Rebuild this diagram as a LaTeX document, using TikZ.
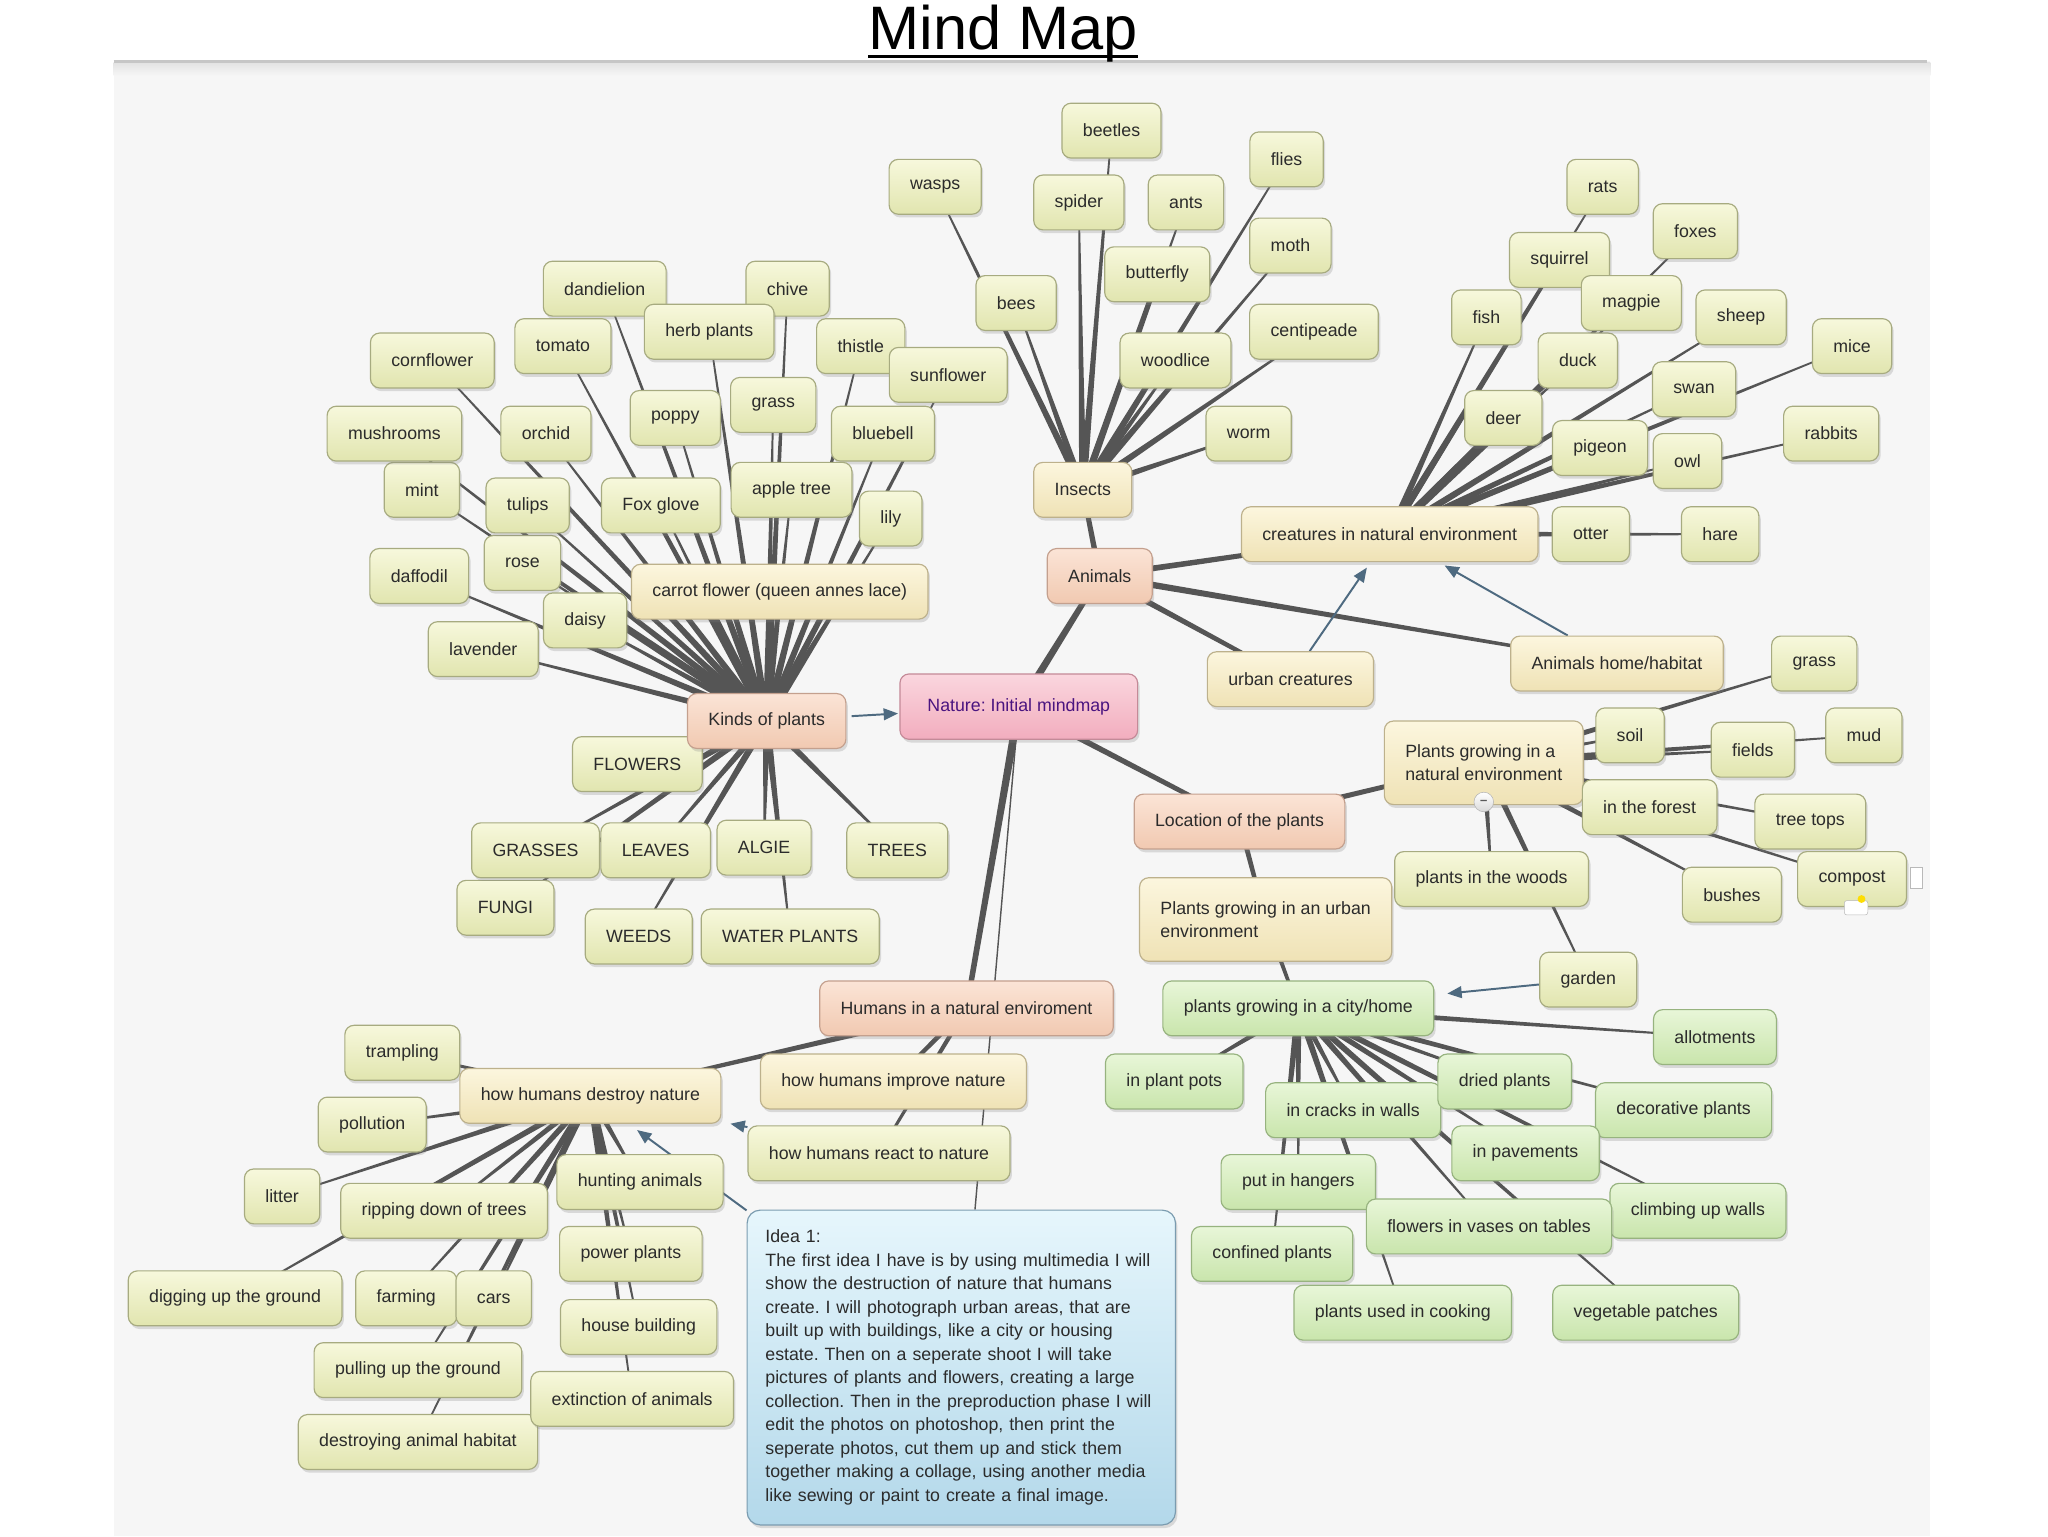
\documentclass[tikz,border=0pt]{standalone}
\usepackage{fontspec}
\setmainfont{Liberation Sans}
\usetikzlibrary{calc,shadows,arrows.meta}
\pgfdeclarelayer{canvas}
\pgfdeclarelayer{bg}
\pgfsetlayers{canvas,bg,main}
\frenchspacing
\definecolor{txt}{HTML}{2B2B2B}
\definecolor{lnk}{HTML}{555555}
\definecolor{arrc}{HTML}{4E6A80}
\definecolor{cv}{HTML}{F6F6F6}
\definecolor{leaft}{HTML}{F7F8DC}
\definecolor{leafm}{HTML}{E1E5AF}
\definecolor{leafd}{HTML}{A7AB80}
\definecolor{beit}{HTML}{FCF6DE}
\definecolor{beim}{HTML}{EFE2B5}
\definecolor{beid}{HTML}{BDB18C}
\definecolor{salt}{HTML}{FBE4D6}
\definecolor{salm}{HTML}{F1C9B1}
\definecolor{sald}{HTML}{C4A08E}
\definecolor{pinkt}{HTML}{FAD6DE}
\definecolor{pinkm}{HTML}{F2ADBE}
\definecolor{pinkd}{HTML}{C48A98}
\definecolor{grnt}{HTML}{E8F6D8}
\definecolor{grnm}{HTML}{C9E5AC}
\definecolor{grnd}{HTML}{97B37F}
\definecolor{blut}{HTML}{E6F6FC}
\definecolor{blum}{HTML}{B3D8EA}
\definecolor{blud}{HTML}{7B9CB0}
\definecolor{natxt}{HTML}{4A1480}
\newcommand{\mmlw}[4]{\fill[lnk] ($(#1)!#3!90:(#2)$) -- ($(#1)!#3!-90:(#2)$) -- ($(#2)!#4!90:(#1)$) -- ($(#2)!#4!-90:(#1)$) -- cycle;}
\newcommand{\mmfan}[4]{\foreach \mmc in {#2}{\mmlw{#1}{\mmc}{#3}{#4}}}
\tikzset{
 mmbox/.style n args={3}{draw=#3, top color=#1, bottom color=#2, rounded corners=7pt, line width=0.9pt, minimum height=42pt, inner xsep=16pt, inner ysep=3pt, text=txt, font=\fontsize{13.6}{18}\selectfont, drop shadow={opacity=0.25, shadow xshift=1.5pt, shadow yshift=-2.5pt}},
 mmleaf/.style={mmbox={leaft}{leafm}{leafd}},
 mmbeige/.style={mmbox={beit}{beim}{beid}},
 mmsal/.style={mmbox={salt}{salm}{sald}},
 mmpink/.style={mmbox={pinkt}{pinkm}{pinkd}},
 mmgreen/.style={mmbox={grnt}{grnm}{grnd}},
 mmblue/.style={mmbox={blut}{blum}{blud}},
 mmarr/.style={draw=arrc, line width=1.5pt, -{Triangle[length=11pt,width=9pt]}},
}
\begin{document}
\begin{tikzpicture}[x=1pt,y=-1pt]
\useasboundingbox (0,0) rectangle (1568,1176);
% title
\node[font=\fontsize{47}{50}\selectfont, anchor=base, inner sep=0pt, text=black] (title) at (768,38) {Mind Map};
\draw[line width=2.4pt] ([yshift=-5pt]title.base west) -- ([yshift=-5pt]title.base east);
% insects
\node[mmleaf] (beetles) at (851,100) {beetles};
\node[mmleaf] (flies) at (985,122) {flies};
\node[mmleaf] (wasps) at (716,143) {wasps};
\node[mmleaf] (spider) at (826,155) {spider};
\node[mmleaf] (ants) at (908,155) {ants};
\node[mmleaf] (moth) at (988,188) {moth};
\node[mmleaf] (butterfly) at (886,210) {butterfly};
\node[mmleaf] (bees) at (778,232) {bees};
\node[mmleaf] (centipeade) at (1006,254) {centipeade};
\node[mmleaf] (woodlice) at (900,276) {woodlice};
\node[mmleaf] (worm) at (956,332) {worm};
\node[mmbeige] (insects) at (829,375) {Insects};
\node[mmsal] (animals) at (842,441) {Animals};
% creatures
\node[mmleaf] (rats) at (1227,143) {rats};
\node[mmleaf] (foxes) at (1298,177) {foxes};
\node[mmleaf] (squirrel) at (1194,199) {squirrel};
\node[mmleaf] (fish) at (1138,243) {fish};
\node[mmleaf] (duck) at (1208,276) {duck};
\node[mmleaf] (magpie) at (1249,232) {magpie};
\node[mmleaf] (sheep) at (1333,243) {sheep};
\node[mmleaf] (mice) at (1418,265) {mice};
\node[mmleaf] (swan) at (1297,298) {swan};
\node[mmleaf] (deer) at (1151,320) {deer};
\node[mmleaf] (pigeon) at (1225,343) {pigeon};
\node[mmleaf] (owl) at (1292,353) {owl};
\node[mmleaf] (rabbits) at (1402,332) {rabbits};
\node[mmbeige] (creatures) at (1064,409) {creatures in natural environment};
\node[mmleaf] (otter) at (1218,409) {otter};
\node[mmleaf] (hare) at (1317,409) {hare};
\node[mmbeige] (urban) at (988,520) {urban creatures};
\node[mmbeige] (home) at (1238,508) {Animals home/habitat};
\node[mmleaf] (grassr) at (1389,508) {grass};
% plants
\node[mmleaf] (dandielion) at (463,221) {dandielion};
\node[mmleaf] (chive) at (603,221) {chive};
\node[mmleaf] (tomato) at (431,265) {tomato};
\node[mmleaf] (herb) at (543,254) {herb plants};
\node[mmleaf] (thistle) at (659,265) {thistle};
\node[mmleaf] (sunflower) at (726,287) {sunflower};
\node[mmleaf] (cornflower) at (331,276) {cornflower};
\node[mmleaf] (mint) at (323,375) {mint};
\node[mmleaf] (mushrooms) at (302,332) {mushrooms};
\node[mmleaf] (orchid) at (418,332) {orchid};
\node[mmleaf] (poppy) at (517,320) {poppy};
\node[mmleaf] (grass) at (592,310) {grass};
\node[mmleaf] (bluebell) at (676,332) {bluebell};
\node[mmleaf] (rose) at (400,431) {rose};
\node[mmleaf] (tulips) at (404,387) {tulips};
\node[mmleaf] (foxglove) at (506,387) {Fox glove};
\node[mmleaf] (appletree) at (606,375) {apple tree};
\node[mmleaf] (lily) at (682,397) {lily};
\node[mmleaf] (daffodil) at (321,441) {daffodil};
\node[mmleaf] (daisy) at (448,475) {daisy};
\node[mmleaf] (lavender) at (370,497) {lavender};
\node[mmbeige] (carrot) at (597,453) {carrot flower (queen annes lace)};
\node[mmleaf] (flowers) at (488,585) {FLOWERS};
\node[mmsal] (kinds) at (587,552) {Kinds of plants};
\node[mmleaf] (fungi) at (387,695) {FUNGI};
\node[mmleaf] (grasses) at (410,651) {GRASSES};
\node[mmleaf] (leaves) at (502,651) {LEAVES};
\node[mmleaf] (algie) at (585,649) {ALGIE};
\node[mmleaf] (trees) at (687,651) {TREES};
\node[mmleaf] (weeds) at (489,717) {WEEDS};
\node[mmleaf] (waterplants) at (605,717) {WATER PLANTS};
% centre
\node[mmpink, minimum width=182pt, minimum height=50pt, text=natxt] (nature) at (780,541) {Nature: Initial mindmap};
% location
\node[mmsal] (location) at (949,629) {Location of the plants};
\node[mmbeige, align=left, minimum height=64pt] (pnat) at (1136,584) {Plants growing in a\\natural environment};
\node[circle, draw=gray!60, top color=white, bottom color=gray!30, minimum size=15pt, inner sep=0pt, font=\bfseries\fontsize{10}{10}\selectfont, text=gray!70!black] (minus) at (1136,614) {--};
\node[mmleaf] (soil) at (1248,563) {soil};
\node[mmleaf] (fields) at (1342,574) {fields};
\node[mmleaf] (mud) at (1427,563) {mud};
\node[mmleaf] (forest) at (1263,618) {in the forest};
\node[mmleaf] (treetops) at (1386,629) {tree tops};
\node[mmleaf] (woods) at (1142,673) {plants in the woods};
\node[mmleaf] (bushes) at (1326,685) {bushes};
\node[mmleaf] (compost) at (1418,673) {compost};
\node[draw=gray!55, fill=white, minimum width=9pt, minimum height=16pt, inner sep=0pt] (iconA) at (1467,672) {};
\node[draw=gray!55, fill=white, rounded corners=2pt, minimum width=18pt, minimum height=11pt, inner sep=0pt] (iconB) at (1421,695) {};
\fill[yellow!80!orange] (iconB.north east) ++(-5pt,1pt) circle (3pt);
\node[mmbeige, align=left, minimum height=64pt] (purban) at (969,704) {Plants growing in an urban\\environment};
\node[mmleaf] (garden) at (1216,750) {garden};
\node[mmgreen] (city) at (994,772) {plants growing in a city/home};
\node[mmgreen] (allot) at (1313,794) {allotments};
\node[mmgreen] (pots) at (899,828) {in plant pots};
\node[mmgreen] (cracks) at (1036,850) {in cracks in walls};
\node[mmgreen] (dried) at (1152,828) {dried plants};
\node[mmgreen] (decor) at (1289,850) {decorative plants};
\node[mmgreen] (pave) at (1168,883) {in pavements};
\node[mmgreen] (hangers) at (994,905) {put in hangers};
\node[mmgreen] (climb) at (1300,927) {climbing up walls};
\node[mmgreen] (confined) at (974,960) {confined plants};
\node[mmgreen] (vases) at (1140,939) {flowers in vases on tables};
\node[mmgreen] (cooking) at (1074,1005) {plants used in cooking};
\node[mmgreen] (veg) at (1260,1005) {vegetable patches};
% humans
\node[mmsal] (humans) at (740,772) {Humans in a natural enviroment};
\node[mmbeige] (improve) at (684,828) {how humans improve nature};
\node[mmleaf] (react) at (673,883) {how humans react to nature};
\node[mmleaf] (trampling) at (308,806) {trampling};
\node[mmbeige] (destroy) at (452,839) {how humans destroy nature};
\node[mmleaf] (pollution) at (285,861) {pollution};
\node[mmleaf] (litter) at (216,916) {litter};
\node[mmleaf] (ripping) at (340,927) {ripping down of trees};
\node[mmleaf] (hunting) at (490,905) {hunting animals};
\node[mmleaf] (power) at (483,960) {power plants};
\node[mmleaf] (digging) at (180,994) {digging up the ground};
\node[mmleaf] (farming) at (311,994) {farming};
\node[mmleaf] (cars) at (378,994) {cars};
\node[mmleaf] (house) at (489,1016) {house building};
\node[mmleaf] (pulling) at (320,1049) {pulling up the ground};
\node[mmleaf] (habitat) at (320,1104) {destroying animal habitat};
\node[mmleaf] (extinct) at (484,1071) {extinction of animals};
\node[mmblue, minimum width=328pt, minimum height=241pt, text width=300pt, inner xsep=0pt, align=left, rounded corners=10pt] (idea) at (736,1047) {Idea 1:\\The first idea I have is by using multimedia I will\\show the destruction of nature that humans\\create. I will photograph urban areas, that are\\built up with buildings, like a city or housing\\estate. Then on a seperate shoot I will take\\pictures of plants and flowers, creating a large\\collection. Then in the preproduction phase I will\\edit the photos on photoshop, then print the\\seperate photos, cut them up and stick them\\together making a collage, using another media\\like sewing or paint to create a final image.};
% background canvas
\begin{pgfonlayer}{canvas}
\fill[white] (0,0) rectangle (1568,1176);
\fill[cv] (87,47) rectangle (1478,1176);
\shade[top color=gray!22, bottom color=cv] (87,48) rectangle (1478,58);
\draw[gray!45, line width=2pt] (87,47) -- (1475,47);
\end{pgfonlayer}
% connectors
\begin{pgfonlayer}{bg}
\mmfan{insects}{wasps,beetles,spider,ants,flies,moth,butterfly,bees,centipeade,woodlice,worm}{2.8pt}{0.5pt}
\mmfan{creatures}{rats,foxes,squirrel,fish,magpie,sheep,mice,duck,swan,deer,pigeon,owl,rabbits,otter,hare}{2.8pt}{0.5pt}
\mmfan{kinds}{dandielion,chive,herb,tomato,thistle,cornflower,sunflower,grass,poppy,bluebell,mushrooms,orchid,mint,tulips,foxglove,appletree,lily,daffodil,rose,carrot,daisy,lavender,flowers,grasses,leaves,algie,trees,fungi,weeds,waterplants}{2.8pt}{0.5pt}
\mmfan{pnat}{soil,fields,mud,grassr,forest,treetops,compost,bushes,woods,garden}{2.5pt}{0.5pt}
\mmfan{city}{allot,pots,dried,cracks,decor,pave,hangers,climb,vases,confined,cooking,veg}{2.5pt}{0.5pt}
\mmfan{destroy}{trampling,pollution,litter,ripping,hunting,power,digging,farming,cars,house,pulling,extinct,habitat}{2.5pt}{0.5pt}
\mmlw{nature}{animals}{3pt}{2pt}
\mmlw{nature}{location}{2.4pt}{1.6pt}
\mmlw{nature}{humans}{3pt}{2pt}
\mmlw{animals}{insects}{2.2pt}{1.8pt}
\mmlw{animals}{creatures}{2.4pt}{1.4pt}
\mmlw{animals}{urban}{2.4pt}{1.4pt}
\mmlw{animals}{home}{2.6pt}{1pt}
\mmlw{location}{pnat}{2.2pt}{1.6pt}
\mmlw{location}{purban}{2pt}{1.5pt}
\mmlw{purban}{city}{1.8pt}{1.2pt}
\mmlw{humans}{destroy}{2.4pt}{1.2pt}
\mmlw{humans}{improve}{2pt}{1.4pt}
\mmlw{humans}{react}{1.8pt}{1pt}
\draw[lnk, line width=1.1pt] (nature) -- (idea);
\draw[mmarr, shorten <=4pt, shorten >=1pt] (kinds) -- (nature);
\draw[mmarr, shorten >=5pt] (urban) -- (creatures);
\draw[mmarr, shorten >=5pt] (home) -- (creatures);
\draw[mmarr, shorten >=10pt] (garden) -- (city);
\draw[mmarr, shorten >=7pt] (react) -- (destroy);
\draw[mmarr, shorten >=8pt] (idea) -- (destroy);
\end{pgfonlayer}
\end{tikzpicture}
\end{document}
